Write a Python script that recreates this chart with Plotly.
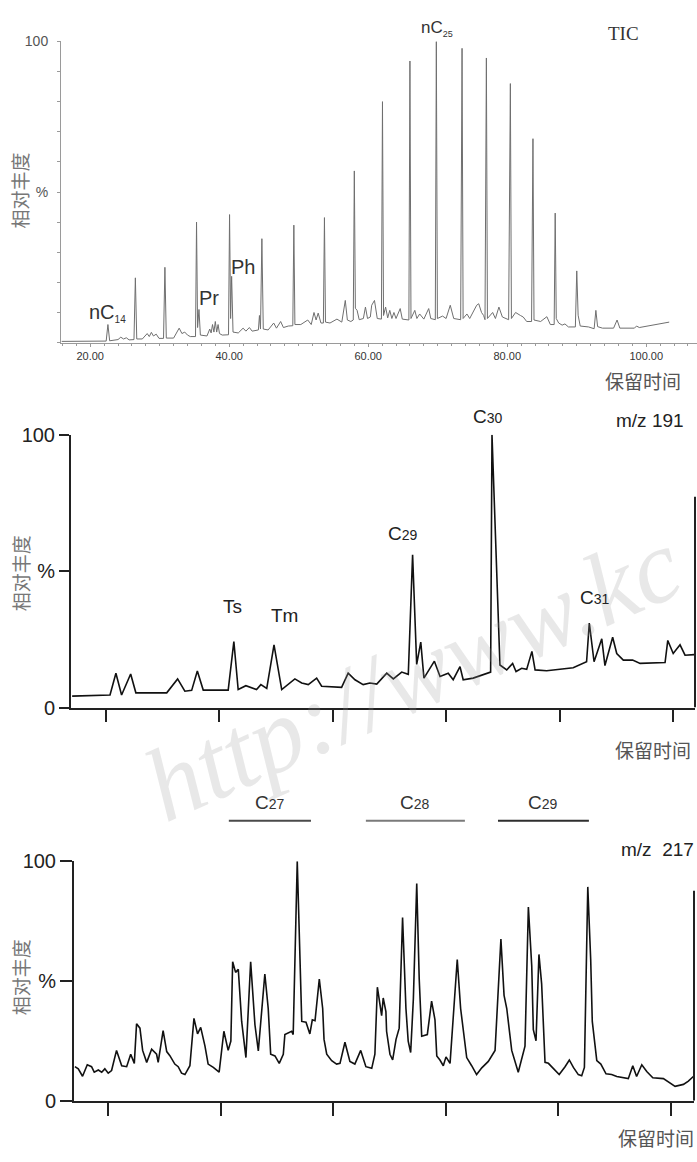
import plotly.graph_objects as go

# ---------------- data ----------------
# TIC (total ion chromatogram): retention time (min) and relative abundance (%)
tic_time = [
    15.9, 19.0, 22.3, 22.55, 22.8, 24.0, 24.4, 24.8, 25.2, 25.6,
    26.3, 26.5, 26.7, 27.5, 28.2, 28.5, 28.8, 29.1, 29.5, 29.9,
    30.55, 30.75, 30.95, 32.0, 32.8, 33.2, 33.6, 34.0, 34.4,
    35.15, 35.3, 35.45, 35.65, 35.85, 36.8, 37.2, 37.4, 37.6, 37.8,
    38.0, 38.2, 38.4, 38.6, 39.0, 39.9, 40.05, 40.2, 40.35, 40.55,
    41.3, 42.0, 42.4, 42.9, 43.3, 43.7, 44.2, 44.35, 44.5, 44.7,
    44.9, 45.6, 46.4, 46.8, 47.4, 47.8, 48.5, 49.15, 49.3, 49.45,
    50.3, 51.3, 51.8, 52.2, 52.5, 52.8, 53.2, 53.55, 53.7, 53.85,
    54.5, 55.5, 56.2, 56.7, 57.0, 57.5, 57.85, 58.0, 58.15, 58.4,
    58.7, 59.3, 59.6, 59.9, 60.3, 60.5, 60.9, 61.3, 61.9, 62.05,
    62.2, 62.5, 62.8, 63.1, 63.4, 63.7, 64.0, 64.6, 64.9, 65.85,
    66.0, 66.15, 66.7, 67.0, 67.4, 68.0, 68.7, 69.0, 69.65, 69.8,
    69.95, 70.7, 71.2, 71.8, 72.3, 73.3, 73.5, 73.65, 74.2, 74.6,
    75.6, 75.9, 76.3, 76.6, 76.8, 77.0, 77.15, 77.9, 78.3, 78.8,
    79.3, 80.2, 80.45, 80.6, 81.2, 81.9, 82.3, 82.8, 83.5, 83.7,
    83.85, 84.8, 85.7, 86.2, 86.75, 86.9, 87.05, 87.4, 87.9, 88.3,
    88.8, 89.8, 90.0, 90.2, 90.5, 91.7, 92.5, 92.75, 93.0, 93.7,
    95.3, 95.8, 96.2, 98.3, 98.6, 99.0, 103.3,
]
tic_abund = [
    0.4, 0.5, 0.5, 6.0, 0.6, 1.0, 1.8, 1.2, 1.6, 0.9,
    1.0, 21.5, 1.2, 1.2, 3.0, 2.0, 3.4, 2.2, 2.8, 1.4,
    1.4, 25.0, 1.5, 1.5, 4.8, 3.0, 3.5, 2.5, 2.0,
    2.0, 40.0, 5.0, 11.0, 2.5, 2.2, 4.5, 3.2, 6.0, 3.5,
    7.0, 3.5, 6.0, 3.0, 2.5, 2.6, 42.5, 8.0, 22.0, 3.5,
    3.2, 4.8, 3.8, 5.0, 3.8, 4.0, 4.2, 9.0, 4.5, 34.5,
    4.5, 4.2, 6.5, 4.8, 7.0, 5.0, 5.5, 5.6, 39.0, 6.0,
    6.0, 7.5, 6.0, 10.0, 7.5, 9.8, 6.5, 6.5, 41.5, 6.8,
    6.5, 7.8, 6.8, 14.0, 7.5, 7.0, 7.5, 57.0, 11.4, 10.7,
    7.6, 8.0, 11.8, 8.0, 8.5, 12.4, 14.0, 8.0, 7.8, 80.0,
    9.0, 11.8, 8.2, 10.7, 8.0, 10.0, 8.0, 11.3, 7.8, 7.5,
    93.5, 8.0, 10.7, 8.0, 9.5, 7.8, 11.3, 8.0, 7.6, 100.0,
    8.0, 8.8, 8.0, 12.4, 8.0, 7.6, 97.7, 8.0, 9.5, 8.0,
    12.4, 12.9, 10.0, 9.0, 7.6, 94.5, 8.0, 10.0, 8.0, 11.8,
    8.5, 7.6, 86.0, 8.0, 10.0, 9.0, 8.5, 7.0, 7.0, 67.7,
    7.5, 7.0, 8.6, 6.0, 6.0, 43.0, 8.0, 6.5, 5.8, 6.2,
    5.2, 5.2, 23.8, 9.1, 5.5, 5.2, 4.6, 10.7, 5.3, 4.8,
    4.8, 7.5, 4.8, 4.8, 5.5, 5.0, 6.8,
]
tic_ticks = [20, 40, 60, 80, 100]
tic_ticklabels = ["20.00", "40.00", "60.00", "80.00", "100.00"]
tic_peak_names = ["nC|14", "Pr", "Ph", "nC|25"]
tic_peak_time = [22.45, 37.1, 42.0, 69.9]
tic_peak_ylab = [9.8, 14.7, 25.1, 104.2]

# m/z 191 (terpanes)
m191_time = [
    38.51, 40.18, 40.44, 40.69, 41.09, 41.32, 42.68, 43.16, 43.48, 43.78,
    44.03, 44.29, 45.39, 45.64, 45.83, 46.17, 46.64, 46.83, 47.09, 47.41,
    47.75, 48.33, 48.63, 48.92, 49.29, 49.51, 50.39, 50.68, 50.98, 51.34,
    51.64, 51.94, 52.38, 52.67, 53.04, 53.33, 53.52, 53.70, 53.88, 54.02,
    54.48, 54.73, 55.09, 55.31, 55.61, 55.75, 56.19, 56.79, 56.96, 57.02,
    57.37, 57.67, 57.93, 58.08, 58.33, 58.55, 58.78, 58.92, 59.43, 60.60,
    61.19, 61.31, 61.52, 61.86, 62.00, 62.34, 62.52, 62.81, 63.22, 63.55,
    64.65, 64.77, 65.01, 65.31, 65.53, 65.93,
]
m191_abund = [
    4.2, 4.6, 12.6, 4.6, 12.3, 5.4, 5.4, 10.5, 6.0, 6.3,
    13.4, 6.4, 6.4, 24.2, 6.6, 8.0, 6.6, 8.4, 7.0, 23.0,
    6.6, 10.5, 9.0, 8.4, 10.8, 7.8, 7.4, 12.6, 10.2, 8.4,
    9.0, 8.6, 12.6, 10.5, 13.0, 12.2, 56.0, 15.8, 24.0, 10.8,
    17.0, 11.4, 12.6, 10.2, 15.0, 10.2, 10.8, 12.6, 13.0, 100.0,
    15.6, 13.8, 16.2, 13.2, 14.4, 14.0, 20.6, 13.8, 13.5, 14.6,
    16.8, 31.0, 16.8, 25.2, 15.4, 25.8, 19.8, 17.4, 17.4, 16.2,
    16.5, 24.6, 19.8, 23.0, 19.2, 19.4,
]
m191_ticks = [40, 45, 50, 55, 60, 65]
m191_peak_names = ["Ts", "Tm", "C29", "C30", "C31"]
m191_peak_time = [45.56, 47.89, 53.10, 56.84, 61.56]
m191_peak_ylab = [37.1, 33.8, 63.7, 106.8, 40.3]
m191_frame_top = 77.3

# m/z 217 (steranes)
m217_time = [
    28.52, 28.67, 28.86, 29.07, 29.26, 29.38, 29.56, 29.71, 29.85, 30.00,
    30.15, 30.37, 30.60, 30.82, 31.00, 31.16, 31.26, 31.41, 31.53, 31.71,
    31.93, 32.15, 32.22, 32.44, 32.60, 32.74, 32.96, 33.11, 33.26, 33.41,
    33.63, 33.81, 33.97, 34.11, 34.30, 34.44, 34.67, 34.93, 35.14, 35.33,
    35.45, 35.53, 35.66, 35.78, 35.93, 36.12, 36.33, 36.52, 36.67, 36.82,
    36.96, 37.11, 37.22, 37.41, 37.60, 37.78, 37.85, 38.15, 38.22, 38.40,
    38.60, 38.79, 38.96, 39.07, 39.19, 39.38, 39.53, 39.59, 39.71, 39.93,
    40.15, 40.30, 40.52, 40.74, 40.96, 41.22, 41.45, 41.71, 41.85, 41.96,
    42.15, 42.22, 42.34, 42.37, 42.52, 42.64, 42.79, 42.93, 43.08, 43.23,
    43.33, 43.44, 43.56, 43.71, 43.82, 43.93, 44.18, 44.37, 44.52, 44.60,
    44.74, 44.89, 45.01, 45.19, 45.36, 45.51, 45.66, 45.93, 46.15, 46.37,
    46.60, 46.89, 47.19, 47.45, 47.59, 47.71, 47.93, 48.22, 48.52, 48.67,
    48.82, 48.89, 49.01, 49.14, 49.26, 49.41, 49.56, 49.78, 50.04, 50.30,
    50.49, 50.67, 50.89, 51.04, 51.16, 51.31, 51.44, 51.51, 51.71, 51.89,
    52.12, 52.37, 52.60, 53.11, 53.31, 53.48, 53.71, 53.93, 54.20, 54.67,
    55.19, 55.56, 55.78, 56.00,
]
m217_abund = [
    14.2, 13.3, 10.2, 15.0, 14.2, 11.9, 12.8, 11.9, 13.3, 11.5,
    12.6, 21.0, 14.6, 14.2, 19.4, 15.6, 32.1, 30.3, 21.0, 16.0,
    21.5, 19.4, 16.0, 29.3, 20.5, 18.8, 15.3, 14.2, 11.5, 10.9,
    14.6, 34.4, 27.9, 30.6, 22.8, 15.3, 13.9, 11.9, 29.0, 21.0,
    24.9, 58.0, 53.6, 54.9, 33.1, 18.0, 58.0, 31.7, 20.8, 38.5,
    52.9, 38.5, 19.4, 18.7, 15.6, 19.4, 27.6, 29.0, 27.6, 100.0,
    33.1, 32.8, 27.9, 33.8, 33.4, 50.8, 38.5, 25.6, 19.4, 16.7,
    15.3, 15.6, 24.4, 16.4, 15.3, 21.0, 14.2, 13.5, 19.4, 47.4,
    35.5, 42.9, 37.2, 29.0, 19.4, 17.0, 25.6, 30.3, 76.5, 38.5,
    24.9, 20.1, 42.6, 90.7, 50.8, 26.9, 27.6, 41.6, 33.8, 18.7,
    17.0, 14.6, 18.3, 15.6, 39.9, 59.0, 38.5, 18.0, 14.6, 10.9,
    13.7, 16.4, 21.0, 67.5, 44.0, 38.5, 21.0, 11.9, 22.8, 80.9,
    56.3, 29.7, 25.0, 61.1, 48.8, 16.0, 15.6, 13.3, 10.9, 14.2,
    17.0, 13.9, 10.9, 10.4, 13.9, 89.3, 59.0, 33.1, 16.7, 15.3,
    11.2, 10.9, 10.1, 9.2, 14.6, 10.1, 15.0, 12.2, 9.6, 9.2,
    6.0, 6.8, 8.2, 10.1,
]
m217_ticks = [30, 35, 40, 45, 50, 55]
m217_groups = ["C27", "C28", "C29"]
m217_group_start = [35.36, 41.45, 47.32]
m217_group_end = [39.01, 45.85, 51.36]
m217_group_colors = ["#4a4a4a", "#7a7a7a", "#2e2e2e"]
m217_frame_top = 87.7

y_ticks = [0, 50, 100]
y_ticklabels = ["0", "%", "100"]

# ---------------- layout helpers ----------------
W, H = 697, 1162
def fx(p):
    return p / W
def fy(p):
    return 1 - p / H

SANS = "Liberation Sans, Arial, sans-serif"
SERIF = "Liberation Serif, Times New Roman, serif"
CJK = "Noto Sans CJK SC, sans-serif"

def small_digits(name, size=14):
    return name[0] + "<span style='font-size:%dpx'>%s</span>" % (size, name[1:])

def subscript(name, size=10):
    if "|" not in name:
        return name
    base, sub = name.split("|")
    return base + "<sub><span style='font-size:%dpx'>%s</span></sub>" % (size, sub)

fig = go.Figure()

fig.add_trace(go.Scatter(x=tic_time, y=tic_abund, mode="lines",
                         line=dict(color="#6f6f6f", width=1),
                         xaxis="x", yaxis="y", hoverinfo="skip"))
fig.add_trace(go.Scatter(x=m191_time, y=m191_abund, mode="lines",
                         line=dict(color="#111111", width=1.6),
                         xaxis="x2", yaxis="y2", hoverinfo="skip"))
fig.add_trace(go.Scatter(x=m217_time, y=m217_abund, mode="lines",
                         line=dict(color="#111111", width=1.6),
                         xaxis="x3", yaxis="y3", hoverinfo="skip"))

bold_axis = dict(showline=True, linecolor="#222222", linewidth=2, ticks="outside",
                 tickcolor="#222222", tickwidth=2, showgrid=False, zeroline=False)

layout = dict(
    width=W, height=H, autosize=False,
    margin=dict(l=0, r=0, t=0, b=0),
    paper_bgcolor="white", plot_bgcolor="white",
    showlegend=False,
    font=dict(family=SANS, color="#222222"),
    xaxis=dict(domain=[fx(61), 1.0], range=[15.8, 107.3], anchor="y",
               showline=True, linecolor="#9a9a9a", linewidth=1, ticks="outside",
               tickcolor="#9a9a9a", ticklen=3, tickvals=tic_ticks, ticktext=tic_ticklabels,
               tickfont=dict(size=11, color="#333333", family=SANS),
               minor=dict(dtick=2, tick0=0, ticks="outside", ticklen=2, tickcolor="#9a9a9a"),
               showgrid=False, zeroline=False),
    yaxis=dict(domain=[fy(338), fy(31)], range=[0, 100], anchor="x",
               showline=True, linecolor="#9a9a9a", linewidth=1, ticks="outside",
               tickcolor="#9a9a9a", ticklen=3, tickvals=[50, 100], ticktext=["%", "100"],
               tickfont=dict(size=14, color="#555555", family=SANS),
               minor=dict(tickvals=list(range(0, 101, 10)), ticks="outside", ticklen=3,
                          tickcolor="#9a9a9a"),
               ticklabelstandoff=6,
               showgrid=False, zeroline=False),
    xaxis2=dict(domain=[fx(71), fx(695)], range=[38.46, 65.97], anchor="y2",
                tickvals=m191_ticks, ticklen=12, showticklabels=False, **bold_axis),
    yaxis2=dict(domain=[fy(710), fy(432)], range=[0, 100], anchor="x2",
                tickvals=y_ticks, ticktext=y_ticklabels, ticklen=10,
                tickfont=dict(size=20, color="#222222", family=SANS), **bold_axis),
    xaxis3=dict(domain=[fx(74), fx(694)], range=[28.48, 56.03], anchor="y3",
                tickvals=m217_ticks, ticklen=13, showticklabels=False, **bold_axis),
    yaxis3=dict(domain=[fy(1110.7), fy(866.7)], range=[0, 100], anchor="x3",
                tickvals=y_ticks, ticktext=y_ticklabels, ticklen=12,
                tickfont=dict(size=20, color="#222222", family=SANS), **bold_axis),
)
fig.update_layout(**layout)

C = dict(xanchor="center", yanchor="middle", showarrow=False)
ann = []
# watermark
ann.append(dict(text="http://www.kc", xref="paper", yref="paper", x=fx(412), y=fy(676),
                textangle=-24,
                font=dict(family=SERIF, size=104, color="rgba(150,150,150,0.22)", style="italic"), **C))

# y titles
for yc in [183, 573, 985]:
    ann.append(dict(text="相对丰度", xref="paper", yref="paper", x=fx(20), y=fy(yc),
                    textangle=-90, font=dict(family=CJK, size=19, color="#777777"), **C))
# x titles
for xc, yc in [(643, 377), (653, 753), (656, 1148)]:
    ann.append(dict(text="保留时间", xref="paper", yref="paper", x=fx(xc), y=fy(yc),
                    font=dict(family=CJK, size=19, color="#555555"), **C))

# TIC labels (y positions as fraction of the axis domain so labels above 100 % show)
ann.append(dict(text="TIC", xref="paper", yref="paper", x=fx(623), y=fy(23),
                font=dict(family=SERIF, size=19, color="#333333"), **C))
for name, t, yl in zip(tic_peak_names, tic_peak_time, tic_peak_ylab):
    size = 17 if "25" in name else 20
    ann.append(dict(text=subscript(name, 10 if size == 20 else 9), xref="x", yref="y domain",
                    x=t, y=yl / 100, font=dict(family=SANS, size=size, color="#333333"), **C))

# m/z 191 labels
ann.append(dict(text="m/z 191", xref="paper", yref="paper", x=fx(650), y=fy(417),
                font=dict(family=SANS, size=19, color="#222222"), **C))
for name, t, yl in zip(m191_peak_names, m191_peak_time, m191_peak_ylab):
    txt = small_digits(name) if name.startswith("C") else name
    ann.append(dict(text=txt, xref="x2", yref="y2 domain", x=t, y=yl / 100,
                    font=dict(family=SANS, size=19, color="#222222"), **C))

# m/z 217 labels
ann.append(dict(text="m/z&nbsp;&nbsp;217", xref="paper", yref="paper", x=fx(657), y=fy(855),
                font=dict(family=SANS, size=19, color="#222222"), **C))
shapes = []
for name, a, b, c in zip(m217_groups, m217_group_start, m217_group_end, m217_group_colors):
    ann.append(dict(text=small_digits(name), xref="x3", yref="paper", x=(a + b) / 2, y=fy(807),
                    font=dict(family=SANS, size=19, color="#333333"), **C))
    shapes.append(dict(type="line", xref="x3", yref="paper", x0=a, x1=b, y0=fy(825.5), y1=fy(825.5),
                       line=dict(color=c, width=2)))

# right frame lines of the two lower panels
shapes.append(dict(type="line", xref="x2 domain", yref="y2", x0=1, x1=1, y0=0, y1=m191_frame_top,
                   line=dict(color="#222222", width=2)))
shapes.append(dict(type="line", xref="x3 domain", yref="y3", x0=1, x1=1, y0=0, y1=m217_frame_top,
                   line=dict(color="#222222", width=2)))

fig.update_layout(annotations=ann, shapes=shapes)

fig.write_html("out.html", config={"displayModeBar": False},
               post_script="document.body.style.margin='0';")
